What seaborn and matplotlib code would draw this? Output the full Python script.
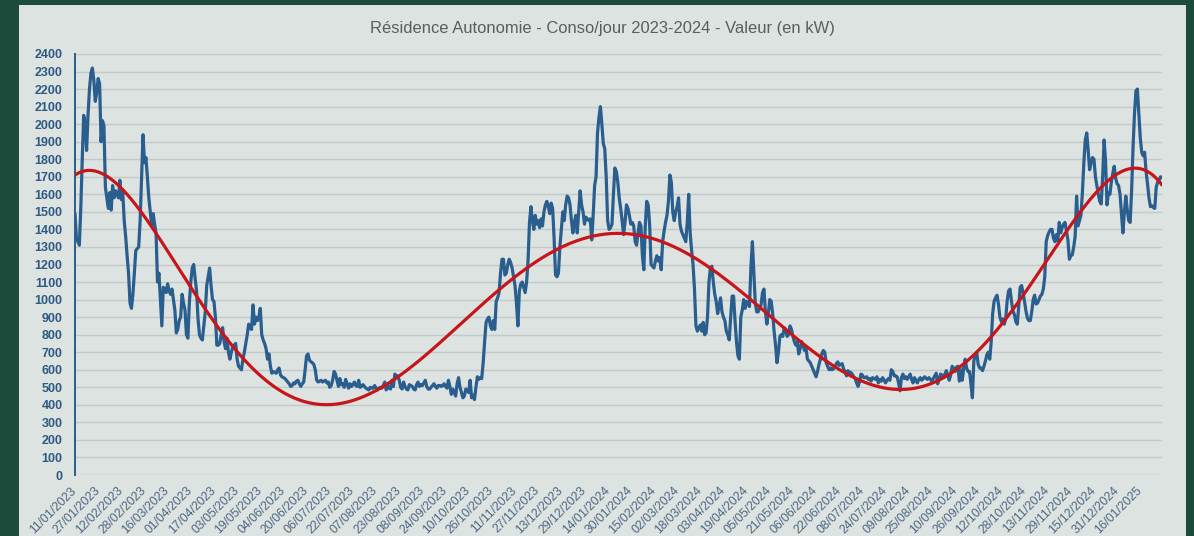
import numpy as np
import pandas as pd
import matplotlib
matplotlib.use("Agg")
import matplotlib.pyplot as plt
from matplotlib.patches import Rectangle
import seaborn as sns

# Consommation journalière (kW), un relevé par jour à partir du 11/01/2023
debut = "2023-01-11"

conso_jan_avr_2023 = [
    1490, 1350, 1330, 1310, 1520, 1800, 2050, 2010, 1850, 2050,
    2200, 2290, 2320, 2250, 2130, 2180, 2260, 2230, 1900, 2020,
    1990, 1640, 1580, 1520, 1610, 1510, 1650, 1580, 1620, 1600,
    1580, 1680, 1570, 1610, 1450, 1360, 1250, 1150, 980, 950,
    1030, 1150, 1280, 1290, 1300, 1450, 1700, 1940, 1780, 1810,
    1700, 1580, 1500, 1420, 1490, 1430, 1380, 1100, 1150, 1000,
    850, 1070, 1060, 1040, 1090, 1050, 1030, 1060, 1000, 940,
    810, 830, 880, 900, 1030, 980, 940, 800, 780, 980,
    1100, 1180, 1200, 1120, 1050, 890, 800, 780, 770, 850,
    930, 1080, 1130, 1180, 1080, 1000, 990, 900, 740, 740,
    750,
]

conso_avr_jul_2023 = [
    800, 840, 760, 720, 780, 700, 660, 700, 730, 740,
    750, 660, 620, 610, 600, 660, 700, 750, 800, 860,
    840, 830, 970, 860, 900, 880, 900, 950, 800, 770,
    750, 720, 660, 690, 620, 580, 590, 585, 580, 600,
    610, 570, 560, 555, 550, 540, 530, 520, 505, 510,
    525, 520, 535, 540, 520, 505, 520, 530, 600, 680,
    690, 655, 645, 640, 630, 600, 540, 530, 535, 540,
    530, 535, 540, 525, 530, 500, 510, 540, 590, 575,
    540, 505, 550, 515, 520, 500, 545, 520, 495, 520,
    505, 515, 530, 510, 505, 540, 500, 505, 515, 505,
]

conso_jul_nov_2023 = [
    495, 490, 485, 500, 495, 495, 510, 495, 485, 495,
    500, 495, 510, 530, 485, 510, 495, 490, 540, 505,
    575, 565, 565, 540, 500, 490, 530, 505, 490, 485,
    515, 510, 505, 490, 485, 515, 530, 505, 515, 510,
    525, 540, 505, 490, 490, 500, 510, 520, 505, 495,
    510, 510, 505, 510, 520, 505, 495, 540, 505, 460,
    490, 470, 450, 520, 555, 500, 470, 440, 450, 490,
    480, 470, 540, 440, 455, 430, 500, 560, 545, 555,
    550, 640, 760, 870, 890, 900, 850, 830, 880, 830,
    990, 1010, 1040, 1150, 1230, 1230, 1140, 1150, 1200, 1230,
]

conso_nov_2023_fev_2024 = [
    1210, 1180, 1130, 1080, 980, 850, 1050, 1090, 1100, 1070,
    1040, 1100, 1220, 1440, 1530, 1450, 1400, 1480, 1430, 1450,
    1410, 1460, 1420, 1500, 1540, 1560, 1530, 1490, 1550, 1520,
    1350, 1140, 1130, 1150, 1300, 1400, 1500, 1450, 1540, 1590,
    1580, 1540, 1450, 1380, 1440, 1480, 1380, 1500, 1620, 1540,
    1500, 1430, 1470, 1460, 1450, 1460, 1340, 1480, 1650, 1700,
    1950, 2040, 2100, 2000, 1890, 1860, 1700, 1450, 1400, 1410,
    1430, 1600, 1750, 1730, 1670, 1580, 1520, 1450, 1370, 1440,
    1540, 1520, 1480, 1430, 1440, 1420, 1330, 1310, 1380, 1440,
    1420, 1250, 1170, 1420, 1560, 1540, 1430, 1200, 1190, 1180,
]

conso_fev_mai_2024 = [
    1220, 1250, 1220, 1240, 1170, 1330, 1390, 1440, 1480, 1560,
    1710, 1670, 1500, 1450, 1500, 1530, 1580, 1430, 1390, 1370,
    1350, 1330, 1440, 1600, 1380, 1280, 1200, 1060, 850, 820,
    840, 855, 820, 870, 800, 810, 900, 1100, 1180, 1190,
    1100, 1030, 990, 920, 960, 1010, 930, 900, 880, 820,
    800, 770, 900, 1020, 1020, 880, 760, 680, 660, 900,
    940, 1000, 950, 990, 980, 960, 1190, 1330, 1160, 980,
    930, 930, 950, 970, 1040, 1060, 930, 860, 920, 1000,
    990, 920, 820, 740, 640, 700, 790, 800, 790, 840,
    830, 790, 800, 850, 830, 790, 760, 740, 760, 690,
]

conso_mai_sep_2024 = [
    720, 760, 740, 710, 730, 660, 650, 640, 620, 600,
    580, 560, 590, 630, 660, 690, 710, 700, 640, 620,
    600, 610, 600, 605, 615, 635, 645, 625, 630, 635,
    605, 590, 565, 595, 585, 585, 575, 560, 550, 525,
    505, 530, 575, 570, 555, 555, 560, 545, 550, 535,
    555, 550, 545, 560, 525, 545, 535, 555, 540, 525,
    540, 550, 540, 600, 590, 565, 565, 560, 525, 480,
    555, 575, 550, 560, 545, 560, 575, 545, 525, 555,
    540, 525, 545, 555, 540, 550, 560, 550, 545, 555,
    545, 535, 550, 565, 580, 520, 545, 575, 570, 555,
]

conso_sep_dec_2024 = [
    575, 595, 565, 540, 570, 620, 610, 590, 615, 620,
    535, 600, 540, 610, 660, 610, 590, 590, 520, 440,
    650, 685, 700, 630, 610, 610, 595, 620, 650, 685,
    700, 660, 760, 920, 990, 1010, 1025, 975, 900, 875,
    890, 860, 890, 990, 1050, 1060, 990, 935, 915, 875,
    860, 960, 1070, 1080, 1040, 990, 935, 895, 880, 880,
    930, 1000, 1025, 975, 980, 1000, 1020, 1030, 1060, 1130,
    1330, 1365, 1385, 1400, 1400, 1350, 1330, 1370, 1335, 1440,
    1380, 1410, 1430, 1440, 1390, 1340, 1230, 1250, 1255, 1300,
    1360, 1590, 1420, 1450, 1480, 1610, 1780, 1910, 1950, 1850,
]

conso_dec_2024_jan_2025 = [
    1740, 1780, 1810, 1800, 1700, 1650, 1600, 1560, 1545, 1700,
    1910, 1790, 1540, 1610, 1600, 1670, 1720, 1760, 1690, 1660,
    1650, 1600, 1490, 1380, 1500, 1590, 1510, 1450, 1440, 1620,
    1870, 2060, 2190, 2200, 2060, 1920, 1840, 1820, 1840, 1730,
    1660, 1580, 1530, 1535, 1525, 1520, 1640, 1670, 1680, 1700,
    1695,
]

pas_etiquettes = 16          # une étiquette de date tous les 16 jours
ordre_tendance = 6           # tendance polynomiale
graduations_y = list(range(0, 2401, 100))

conso = (conso_jan_avr_2023 + conso_avr_jul_2023 + conso_jul_nov_2023
         + conso_nov_2023_fev_2024 + conso_fev_mai_2024 + conso_mai_sep_2024
         + conso_sep_dec_2024 + conso_dec_2024_jan_2025)
dates = pd.date_range(debut, periods=len(conso), freq="D")
jours = np.arange(len(conso))
tendance = np.polynomial.Polynomial.fit(jours, conso, ordre_tendance)(jours)
df = pd.DataFrame({"date": dates, "conso": conso, "tendance": tendance})

sns.set_theme(style="white")
plt.rcParams["font.family"] = ["Liberation Sans", "DejaVu Sans"]

W, H = 1194, 536
fig = plt.figure(figsize=(W / 100, H / 100), dpi=100)
fig.patch.set_facecolor("#1c4b3c")
fig.patches.append(Rectangle((19 / W, 0), (1186 - 19) / W, (H - 5) / H,
                             transform=fig.transFigure, facecolor="#dde3e1",
                             edgecolor="none", zorder=-1))

ax = fig.add_axes([75 / W, 61 / H, 1087 / W, 421 / H])
ax.set_facecolor("none")

sns.lineplot(data=df, x="date", y="conso", ax=ax, color="#2a5e8e",
             linewidth=2.3, zorder=3)
sns.lineplot(data=df, x="date", y="tendance", ax=ax, color="#c6161b",
             linewidth=2.3, zorder=4)

ax.set_xlim(dates[0], dates[-1])
ax.set_ylim(0, 2400)
ax.set_yticks(graduations_y)
ax.set_yticklabels([str(v) for v in graduations_y], fontweight="bold",
                   color="#2d5a82", fontsize=9)
ax.yaxis.grid(True, color="#c3c9c7", linewidth=1.0)
ax.set_axisbelow(True)

ticks = dates[::pas_etiquettes]
ax.set_xticks(ticks)
ax.set_xticklabels([d.strftime("%d/%m/%Y") for d in ticks], rotation=45,
                   ha="right", va="center", rotation_mode="anchor",
                   color="#4d6782", fontsize=8.8)
ax.tick_params(axis="x", length=0, pad=10)
ax.tick_params(axis="y", length=0, pad=9)
ax.set_xlabel("")
ax.set_ylabel("")

for side in ["top", "right", "bottom"]:
    ax.spines[side].set_visible(False)
ax.spines["left"].set_color("#2a5e8e")
ax.spines["left"].set_linewidth(1.4)

fig.text(602 / W, 1 - 28 / H,
         "Résidence Autonomie - Conso/jour 2023-2024 - Valeur (en kW)",
         ha="center", va="center", color="#5a5f5e", fontsize=11.9)

fig.savefig("out.png", dpi=100, facecolor=fig.get_facecolor())
